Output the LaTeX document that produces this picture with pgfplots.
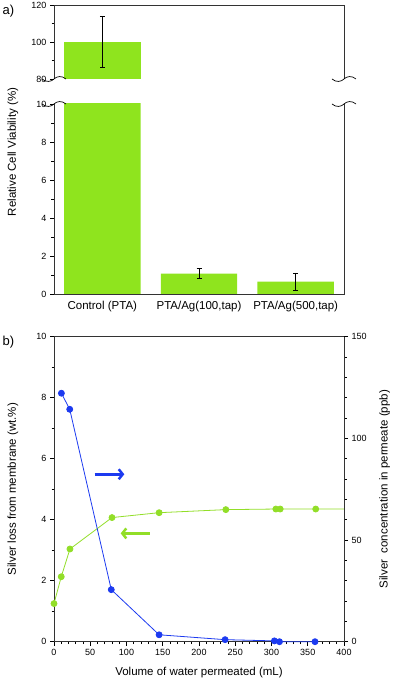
\documentclass[border=0pt]{standalone}
\usepackage{fontspec}
\setmainfont{Liberation Sans}
\usepackage{pgfplots}
\pgfplotsset{compat=1.18}
\usetikzlibrary{arrows.meta}

\definecolor{barg}{RGB}{143,228,30}
\definecolor{lineg}{RGB}{146,222,40}
\definecolor{lineb}{RGB}{28,58,240}

\pgfplotsset{
  base/.style={
    scale only axis, width=290pt,
    tick align=outside,
    major tick length=4pt, minor tick length=2.5pt,
    tick style={black, line width=0.6pt},
    tick label style={font=\fontsize{9}{10}\selectfont},
    label style={font=\fontsize{11.5}{13}\selectfont},
    /pgf/number format/assume math mode=true,
  },
  errs/.style={
    error bars/.cd, y dir=both, y explicit,
    error bar style={black, line width=0.7pt},
    error mark options={rotate=90, mark size=2.5pt, black, line width=0.7pt},
  },
}

% bit of a wave for the broken axis
\newcommand{\squig}[2]{%
  \draw[line width=0.7pt] (#1pt-12pt,#2pt) .. controls (#1pt-8pt,#2pt-3.5pt) and (#1pt-3pt,#2pt-3pt) .. (#1pt,#2pt)
    .. controls (#1pt+3pt,#2pt+3pt) and (#1pt+8pt,#2pt+3.5pt) .. (#1pt+12pt,#2pt);}

\begin{document}
\begin{tikzpicture}
\path[use as bounding box] (0pt,0pt) rectangle (392pt,680pt);

% a) upper part 80-120, only the control bar reaches it
\begin{axis}[base, name=up, at={(54pt,601pt)}, anchor=south west, height=74pt,
  xmin=-0.5, xmax=2.5, ymin=80, ymax=120,
  xtick=\empty, ytick={80,100,120}, minor ytick={90,110}, ytick pos=left,
  axis line style={draw=none}, ybar, bar width=0.79]
  \addplot[fill=barg, draw=none, errs] coordinates {(0,100) +- (0,13.7)};
\end{axis}

% a) lower part 0-10
\begin{axis}[base, name=lo, at={(54pt,386pt)}, anchor=south west, height=190pt,
  xmin=-0.5, xmax=2.5, ymin=0, ymax=10,
  xtick={0,1,2}, xticklabels={Control (PTA), PTA/Ag(100{,}tap), PTA/Ag(500{,}tap)},
  xticklabel style={font=\fontsize{11.5}{13}\selectfont},
  x tick style={draw=none},
  ytick={0,2,...,10}, minor y tick num=1, ytick pos=left,
  axis line style={draw=none}, ybar, bar width=0.79]
  \addplot[fill=barg, draw=none, errs] coordinates {(0,100) +- (0,13.7) (1,1.07) +- (0,0.27) (2,0.65) +- (0,0.46)};
\end{axis}

\draw[line width=0.7pt, black!80] (up.south west) -- (up.north west) -- (up.north east) -- (up.south east);
\draw[line width=0.7pt, black!80] (lo.north west) -- (lo.south west) -- (lo.south east) -- (lo.north east);
\squig{54}{601}
\squig{54}{576}
\squig{344}{601}
\squig{344}{576}

\node[rotate=90, font=\fontsize{11.5}{13}\selectfont] at (13pt,528pt) {Relative Cell Viability (\%)};
\node[anchor=west, font=\fontsize{13}{15}\selectfont] at (-1pt,669pt) {a)};
\node[anchor=west, font=\fontsize{13}{15}\selectfont] at (-1pt,338pt) {b)};

% b) left axis, silver loss
\begin{axis}[base, at={(54pt,38.3pt)}, anchor=south west, height=305pt,
  xmin=0, xmax=400, ymin=0, ymax=10,
  xtick={0,50,...,400}, minor x tick num=4, xtick pos=bottom,
  ytick={0,2,...,10}, minor y tick num=1, ytick pos=left,
  axis line style={line width=0.7pt, black!80},
  clip=false,
  xlabel={Volume of water permeated (mL)},
  xlabel style={at={(axis description cs:0.5,-0.1)}, anchor=center},
  ylabel={Silver loss from membrane (wt.\%)},
  ylabel style={at={(axis description cs:-0.142,0.5)}, anchor=center}]
  \addplot[lineg, line width=0.8pt, mark=*, mark size=3pt, mark indices={1,...,9}]
    coordinates {(0,1.25) (10,2.13) (22,3.04) (80,4.07) (145,4.23) (237,4.33) (306,4.35) (312,4.35) (361,4.35) (400,4.35)};
  \draw[lineb, line width=2.5pt, -{Straight Barb[length=4pt,width=10pt]}] (axis cs:56,5.49) -- (axis cs:97,5.49);
  \draw[lineg, line width=2.5pt, -{Straight Barb[length=4pt,width=10pt]}] (axis cs:132,3.55) -- (axis cs:92,3.55);
\end{axis}

% b) right axis, silver in permeate
\begin{axis}[base, at={(54pt,38.3pt)}, anchor=south west, height=305pt,
  xmin=0, xmax=400, ymin=0, ymax=150,
  axis x line=none, axis y line*=right,
  ytick={0,50,100,150}, minor y tick num=4,
  axis line style={line width=0.7pt, black!80},
  clip=false,
  ylabel={Silver\ \ concentration in permeate (ppb)},
  ylabel style={at={(axis description cs:1.14,0.5)}, anchor=center}]
  \addplot[lineb, line width=0.8pt, mark=*, mark size=3pt]
    coordinates {(10.2,122.2) (21.7,114.3) (79,25.6) (145,3.4) (236,1.0) (304,0.4) (311,0) (360,0)};
\end{axis}
\end{tikzpicture}
\end{document}
